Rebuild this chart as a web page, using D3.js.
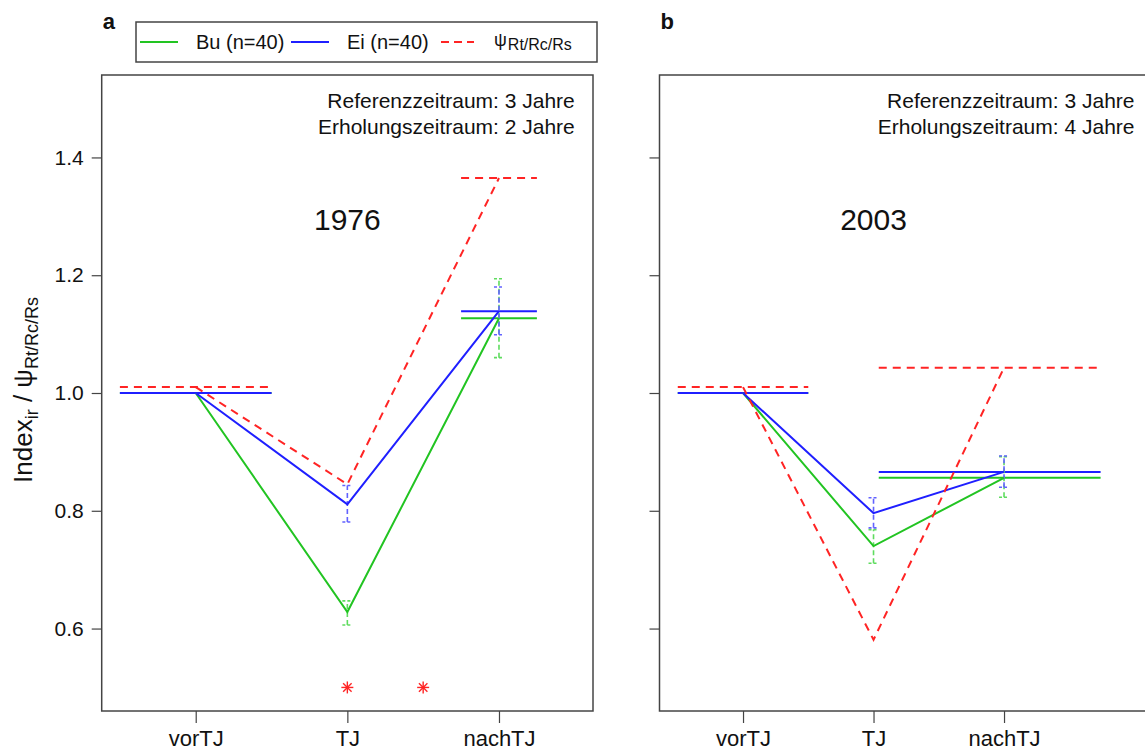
<!DOCTYPE html>
<html>
<head>
<meta charset="utf-8">
<script src="https://cdn.jsdelivr.net/npm/d3@7"></script>
<style>
  html, body { margin: 0; padding: 0; background: #fff; }
  svg { display: block; font-family: "Liberation Sans", Arial, sans-serif; }
</style>
</head>
<body>
<svg id="chart" width="1145" height="751"></svg>
<script>
// Categories on the x axis (positions 1, 2, 3)
const categories = ["vorTJ", "TJ", "nachTJ"];
const yTicks = [0.6, 0.8, 1.0, 1.2, 1.4];

// Panel a (1976)
const buA = [1.0, 0.628, 1.127];
const eiA = [1.0, 0.811, 1.139];
const psiA = [1.01, 0.845, 1.365];
const buErrA = [null, [0.606, 0.647], [1.060, 1.194]];
const eiErrA = [null, [0.781, 0.843], [1.099, 1.180]];
const refSpanA = [0.5, 1.5];
const recSpanA = [2.75, 3.25];
const sigA = [2, 2.5];
const sigLevel = 0.5;

// Panel b (2003)
const buB = [1.0, 0.740, 0.856];
const eiB = [1.0, 0.796, 0.866];
const psiB = [1.01, 0.581, 1.043];
const buErrB = [null, [0.711, 0.768], [0.823, 0.892]];
const eiErrB = [null, [0.771, 0.822], [0.840, 0.893]];
const refSpanB = [0.5, 1.5];
const recSpanB = [2.04, 3.74];

const GREEN = "#22c422", BLUE = "#1f1fff", RED = "#ff2424";
const GREEN_ERR = "#5fdc5f", BLUE_ERR = "#6262ff";

const svg = d3.select("#chart");

const yScale = d3.scaleLinear().domain([0.46, 1.54]).range([711, 75]);

const panels = [
  { label: "a", year: "1976", xlim: [0.5, 3.5], px: [101.7, 593], showLabels: true,
    bu: buA, ei: eiA, psi: psiA, buErr: buErrA, eiErr: eiErrA,
    refSpan: refSpanA, recSpan: recSpanA, sig: sigA,
    ref: "Referenzzeitraum: 3 Jahre", rec: "Erholungszeitraum: 2 Jahre" },
  { label: "b", year: "2003", xlim: [0.5, 4.0], px: [659.5, 1152.8], showLabels: false,
    bu: buB, ei: eiB, psi: psiB, buErr: buErrB, eiErr: eiErrB,
    refSpan: refSpanB, recSpan: recSpanB, sig: [],
    ref: "Referenzzeitraum: 3 Jahre", rec: "Erholungszeitraum: 4 Jahre" }
];

panels.forEach(p => {
  const ext = (p.xlim[1] - p.xlim[0]) * 0.04;
  const x = d3.scaleLinear().domain([p.xlim[0] - ext, p.xlim[1] + ext]).range(p.px);
  const g = svg.append("g");

  // frame
  g.append("rect")
    .attr("x", p.px[0]).attr("y", 75)
    .attr("width", p.px[1] - p.px[0]).attr("height", 711 - 75)
    .attr("fill", "none").attr("stroke", "#444").attr("stroke-width", 1.5);

  // y axis
  const yAxis = d3.axisLeft(yScale).tickValues(yTicks).tickSize(10).tickPadding(8)
    .tickFormat(p.showLabels ? d3.format(".1f") : () => "");
  const ya = g.append("g").attr("transform", `translate(${p.px[0]},0)`).call(yAxis);
  ya.select(".domain").remove();
  ya.selectAll(".tick line").attr("stroke", "#444").attr("stroke-width", 1.2);
  ya.selectAll(".tick text").attr("font-size", 21).attr("fill", "#111")
    .attr("font-family", "Liberation Sans, Arial, sans-serif");

  // x axis
  const xAxis = d3.axisBottom(x).tickValues([1, 2, 3]).tickSize(12).tickPadding(7)
    .tickFormat((d, i) => categories[i]);
  const xa = g.append("g").attr("transform", "translate(0,711)").call(xAxis);
  xa.select(".domain").remove();
  xa.selectAll(".tick line").attr("stroke", "#444").attr("stroke-width", 1.2);
  xa.selectAll(".tick text").attr("font-size", 22).attr("fill", "#111")
    .attr("font-family", "Liberation Sans, Arial, sans-serif");

  // period texts
  g.append("text").attr("x", x(p.xlim[1])).attr("y", yScale(1.484))
    .attr("text-anchor", "end").attr("font-size", 21).attr("fill", "#111").text(p.ref);
  g.append("text").attr("x", x(p.xlim[1])).attr("y", yScale(1.439))
    .attr("text-anchor", "end").attr("font-size", 21).attr("fill", "#111").text(p.rec);

  // year label
  g.append("text").attr("x", x(2)).attr("y", yScale(1.277))
    .attr("text-anchor", "middle").attr("font-size", 30).attr("fill", "#111").text(p.year);

  // panel letter
  svg.append("text").attr("x", p.px[0] + 1).attr("y", 29)
    .attr("font-size", 22).attr("font-weight", "bold").attr("fill", "#111").text(p.label);

  // reference-period and recovery-period levels
  const levels = [
    { v: p.bu, c: GREEN, dash: null },
    { v: p.ei, c: BLUE, dash: null },
    { v: p.psi, c: RED, dash: "8,6" }
  ];
  levels.forEach(s => {
    [[p.refSpan, s.v[0]], [p.recSpan, s.v[2]]].forEach(([span, val]) => {
      g.append("line")
        .attr("x1", x(span[0])).attr("x2", x(span[1]))
        .attr("y1", yScale(val)).attr("y2", yScale(val))
        .attr("stroke", s.c).attr("stroke-width", 2)
        .attr("stroke-dasharray", s.dash);
    });
  });

  // error bars
  const drawErr = (errs, col) => {
    errs.forEach((e, i) => {
      if (!e) return;
      const cx = x(i + 1);
      g.append("line").attr("x1", cx).attr("x2", cx)
        .attr("y1", yScale(e[0])).attr("y2", yScale(e[1]))
        .attr("stroke", col).attr("stroke-width", 1.6).attr("stroke-dasharray", "5,3");
      e.forEach(v => {
        g.append("line").attr("x1", cx - 5).attr("x2", cx + 5)
          .attr("y1", yScale(v)).attr("y2", yScale(v))
          .attr("stroke", col).attr("stroke-width", 1.6).attr("stroke-dasharray", "3,2");
      });
    });
  };
  drawErr(p.buErr, GREEN_ERR);
  drawErr(p.eiErr, BLUE_ERR);

  // connecting lines
  const line = d3.line().x((d, i) => x(i + 1)).y(d => yScale(d));
  levels.forEach(s => {
    g.append("path").datum(s.v).attr("d", line)
      .attr("fill", "none").attr("stroke", s.c).attr("stroke-width", 2)
      .attr("stroke-dasharray", s.dash);
  });

  // significance markers
  p.sig.forEach(sx => {
    const cx = x(sx), cy = yScale(sigLevel), r = 6;
    const star = g.append("g").attr("stroke", RED).attr("stroke-width", 1.4);
    [0, 45, 90, 135].forEach(a => {
      const rad = a * Math.PI / 180;
      star.append("line")
        .attr("x1", cx - r * Math.cos(rad)).attr("y1", cy - r * Math.sin(rad))
        .attr("x2", cx + r * Math.cos(rad)).attr("y2", cy + r * Math.sin(rad));
    });
  });
});

// y axis title
const yTitle = svg.append("text")
  .attr("transform", "translate(32,390) rotate(-90)")
  .attr("text-anchor", "middle").attr("font-size", 26).attr("fill", "#111");
yTitle.append("tspan").text("Index");
yTitle.append("tspan").attr("font-size", 18).attr("dy", 6).text("ir");
yTitle.append("tspan").attr("dy", -6).text(" / ψ");
yTitle.append("tspan").attr("font-size", 18).attr("dy", 6).text("Rt/Rc/Rs");

// legend
const lg = svg.append("g");
lg.append("rect").attr("x", 136).attr("y", 22).attr("width", 461).attr("height", 40)
  .attr("fill", "#fff").attr("stroke", "#444").attr("stroke-width", 1.5);
const legendItems = [
  { x1: 140, x2: 178, tx: 196, c: GREEN, dash: null, t: "Bu (n=40)" },
  { x1: 291, x2: 329, tx: 347, c: BLUE, dash: null, t: "Ei (n=40)" },
  { x1: 441, x2: 474, tx: 494, c: RED, dash: "8,5", t: null }
];
legendItems.forEach(d => {
  lg.append("line").attr("x1", d.x1).attr("x2", d.x2).attr("y1", 42).attr("y2", 42)
    .attr("stroke", d.c).attr("stroke-width", 2).attr("stroke-dasharray", d.dash);
  if (d.t) {
    lg.append("text").attr("x", d.tx).attr("y", 49).attr("font-size", 20).attr("fill", "#111").text(d.t);
  } else {
    const t = lg.append("text").attr("x", d.tx).attr("y", 46).attr("font-size", 18).attr("fill", "#111");
    t.append("tspan").text("ψ");
    t.append("tspan").attr("font-size", 16).attr("dy", 4).attr("dx", 1).text("Rt/Rc/Rs");
  }
});
</script>
</body>
</html>
